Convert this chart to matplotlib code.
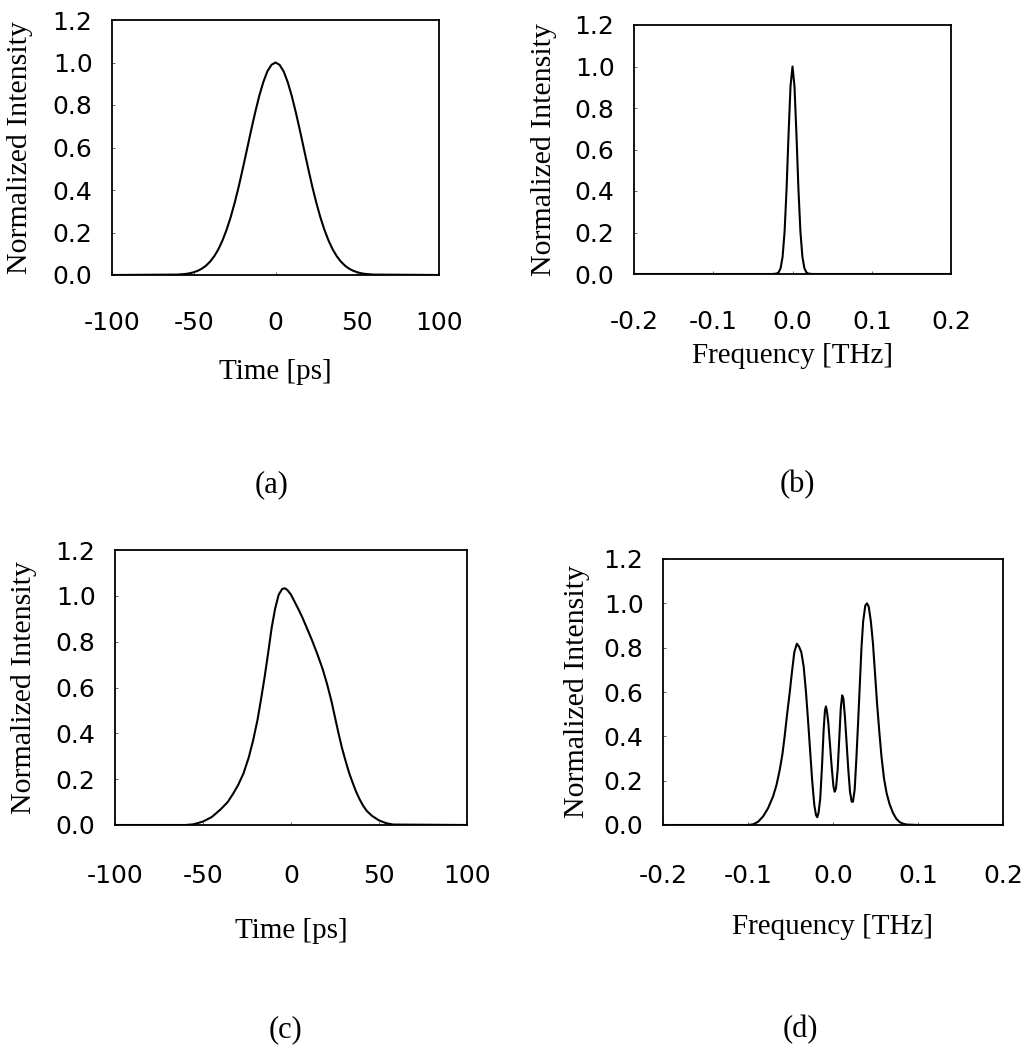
import matplotlib
matplotlib.use("Agg")
import matplotlib.pyplot as plt

plt.rcParams["axes.unicode_minus"] = False  # plain hyphen for negative ticks

# ── input pulse (a): intensity vs time ─────────────────────────────────────
time_in = [-100, -60, -55, -52.5, -50, -47.5, -45, -42.5, -40, -37.5, -35,
           -32.5, -30, -27.5, -25, -22.5, -20, -17.5, -15, -12.5, -10, -7.5,
           -5, -2.5, 0, 2.5, 5, 7.5, 10, 12.5, 15, 17.5, 20, 22.5, 25, 27.5,
           30, 32.5, 35, 37.5, 40, 42.5, 45, 47.5, 50, 52.5, 55, 60, 100]
intensity_in = [0, 0.002, 0.005, 0.008, 0.013, 0.020, 0.030, 0.044, 0.063,
                0.088, 0.120, 0.161, 0.211, 0.270, 0.339, 0.416, 0.501, 0.589,
                0.678, 0.763, 0.841, 0.907, 0.958, 0.989, 1.000, 0.989, 0.958,
                0.907, 0.841, 0.763, 0.678, 0.589, 0.501, 0.416, 0.339, 0.270,
                0.211, 0.161, 0.120, 0.088, 0.063, 0.044, 0.030, 0.020, 0.013,
                0.008, 0.005, 0.002, 0]

# ── input spectrum (b) ─────────────────────────────────────────────────────
freq_in = [-0.2, -0.025, -0.02, -0.0175, -0.015, -0.0125, -0.01, -0.0075,
           -0.005, -0.0025, 0.0, 0.0025, 0.005, 0.0075, 0.01, 0.0125, 0.015,
           0.0175, 0.02, 0.025, 0.2]
spectrum_in = [0, 0, 0.002, 0.008, 0.028, 0.083, 0.203, 0.408, 0.671, 0.905,
               1.0, 0.905, 0.671, 0.408, 0.203, 0.083, 0.028, 0.008, 0.002,
               0, 0]

# ── output pulse (c): skewed, slightly above unity ─────────────────────────
time_out = [-100, -60, -55.4, -50, -45, -40, -36, -33, -30, -27, -24, -21.5,
            -19, -17, -15, -13, -11, -9, -7, -5, -3.5, -2, 0, 2, 4, 6.2, 9,
            12, 15, 18, 20.5, 23, 25, 27, 29, 31, 33, 35, 37, 39, 41, 43, 46,
            50, 54, 58, 100]
intensity_out = [0, 0, 0.003, 0.015, 0.035, 0.068, 0.100, 0.135, 0.175, 0.225,
                 0.295, 0.370, 0.460, 0.550, 0.645, 0.750, 0.860, 0.945, 1.005,
                 1.030, 1.033, 1.025, 1.005, 0.975, 0.945, 0.910, 0.860, 0.805,
                 0.745, 0.680, 0.615, 0.540, 0.470, 0.400, 0.335, 0.280, 0.228,
                 0.185, 0.145, 0.112, 0.084, 0.062, 0.040, 0.020, 0.008, 0.002,
                 0]

# ── output spectrum (d): four-peak broadened spectrum ──────────────────────
freq_out = [-0.2, -0.1, -0.094, -0.088, -0.0824, -0.0765, -0.0706, -0.0665,
            -0.0627, -0.0595, -0.0569, -0.054, -0.051, -0.048, -0.0455,
            -0.0425, -0.040, -0.0373, -0.0345, -0.0318, -0.0294, -0.027,
            -0.0245, -0.022, -0.020, -0.0185, -0.017, -0.015, -0.013, -0.011,
            -0.0095, -0.0083, -0.007, -0.0055, -0.0035, -0.0015, 0.0005,
            0.002, 0.0035, 0.0055, 0.0075, 0.0092, 0.0108, 0.0122, 0.014,
            0.016, 0.018, 0.020, 0.022, 0.0235, 0.0255, 0.0275, 0.0295,
            0.0315, 0.0335, 0.0355, 0.038, 0.040, 0.042, 0.0445, 0.047,
            0.0495, 0.052, 0.0545, 0.057, 0.060, 0.063, 0.0665, 0.0705,
            0.0745, 0.0785, 0.083, 0.087, 0.1, 0.2]
spectrum_out = [0, 0, 0.003, 0.015, 0.038, 0.075, 0.128, 0.180, 0.248, 0.320,
                0.399, 0.500, 0.595, 0.700, 0.780, 0.818, 0.805, 0.780, 0.715,
                0.600, 0.474, 0.340, 0.200, 0.090, 0.045, 0.035, 0.055, 0.120,
                0.260, 0.430, 0.515, 0.535, 0.510, 0.460, 0.360, 0.260, 0.175,
                0.150, 0.165, 0.250, 0.400, 0.530, 0.585, 0.570, 0.490, 0.370,
                0.250, 0.150, 0.105, 0.105, 0.160, 0.300, 0.460, 0.630, 0.800,
                0.920, 0.990, 1.000, 0.985, 0.920, 0.820, 0.680, 0.540, 0.420,
                0.310, 0.210, 0.145, 0.095, 0.055, 0.028, 0.013, 0.005, 0.002,
                0, 0]

time_ticks = [-100, -50, 0, 50, 100]
freq_ticks = [-0.2, -0.1, 0.0, 0.1, 0.2]
intensity_ticks = [0.0, 0.2, 0.4, 0.6, 0.8, 1.0, 1.2]
panel_tags = ["(a)", "(b)", "(c)", "(d)"]

FIG_W, FIG_H = 1030, 1050
SERIF = "Liberation Serif"
SANS = "DejaVu Sans"


def px_rect(left, top, right, bottom):
    """Axes rectangle in figure fractions from pixel edges."""
    return [left / FIG_W, 1 - bottom / FIG_H,
            (right - left) / FIG_W, (bottom - top) / FIG_H]


# per panel: axes box, x tick pad (pt), xlabel / ylabel offsets (axes coords), tag centre (px)
LAYOUT = [
    dict(rect=px_rect(112, 20, 439, 275), xpad=26, xlab_y=-0.33, ylab_x=-0.242, tag=(272, 485)),
    dict(rect=px_rect(634, 25, 951, 274), xpad=26, xlab_y=-0.277, ylab_x=-0.243, tag=(797, 485)),
    dict(rect=px_rect(115, 550, 467, 825), xpad=28, xlab_y=-0.34, ylab_x=-0.222, tag=(285, 1030)),
    dict(rect=px_rect(663, 559, 1003, 825), xpad=28, xlab_y=-0.335, ylab_x=-0.215, tag=(800, 1030)),
]

SERIES = [
    (time_in, intensity_in, time_ticks, "Time [ps]", "{:d}"),
    (freq_in, spectrum_in, freq_ticks, "Frequency [THz]", "{:.1f}"),
    (time_out, intensity_out, time_ticks, "Time [ps]", "{:d}"),
    (freq_out, spectrum_out, freq_ticks, "Frequency [THz]", "{:.1f}"),
]

fig = plt.figure(figsize=(FIG_W / 100, FIG_H / 100), dpi=100, facecolor="white")

for (xs, ys, xticks, xlabel, fmt), lay, tag in zip(SERIES, LAYOUT, panel_tags):
    ax = fig.add_axes(lay["rect"])
    ax.plot(xs, ys, color="black", linewidth=1.5, solid_joinstyle="round")

    ax.set_xlim(xticks[0], xticks[-1])
    ax.set_ylim(0, 1.2)
    ax.set_xticks(xticks)
    ax.set_xticklabels([fmt.format(v) for v in xticks], fontfamily=SANS, fontsize=18)
    ax.set_yticks(intensity_ticks)
    ax.set_yticklabels([f"{v:.1f}" for v in intensity_ticks], fontfamily=SANS, fontsize=18)
    ax.tick_params(axis="both", direction="in", length=2.5, width=0.7, color="0.4")
    ax.tick_params(axis="x", pad=lay["xpad"])
    ax.tick_params(axis="y", pad=14)

    for spine in ax.spines.values():
        spine.set_linewidth(1.3)
        spine.set_color("black")

    ax.set_xlabel(xlabel, fontfamily=SERIF, fontsize=21)
    ax.xaxis.set_label_coords(0.5, lay["xlab_y"])
    ax.set_ylabel("Normalized Intensity", fontfamily=SERIF, fontsize=21.5)
    ax.yaxis.set_label_coords(lay["ylab_x"], 0.5)

    tx, ty = lay["tag"]
    fig.text(tx / FIG_W, 1 - ty / FIG_H, tag, fontfamily=SERIF, fontsize=22,
             ha="center", va="center")

fig.savefig("out.png", dpi=100, facecolor="white")
plt.close(fig)
